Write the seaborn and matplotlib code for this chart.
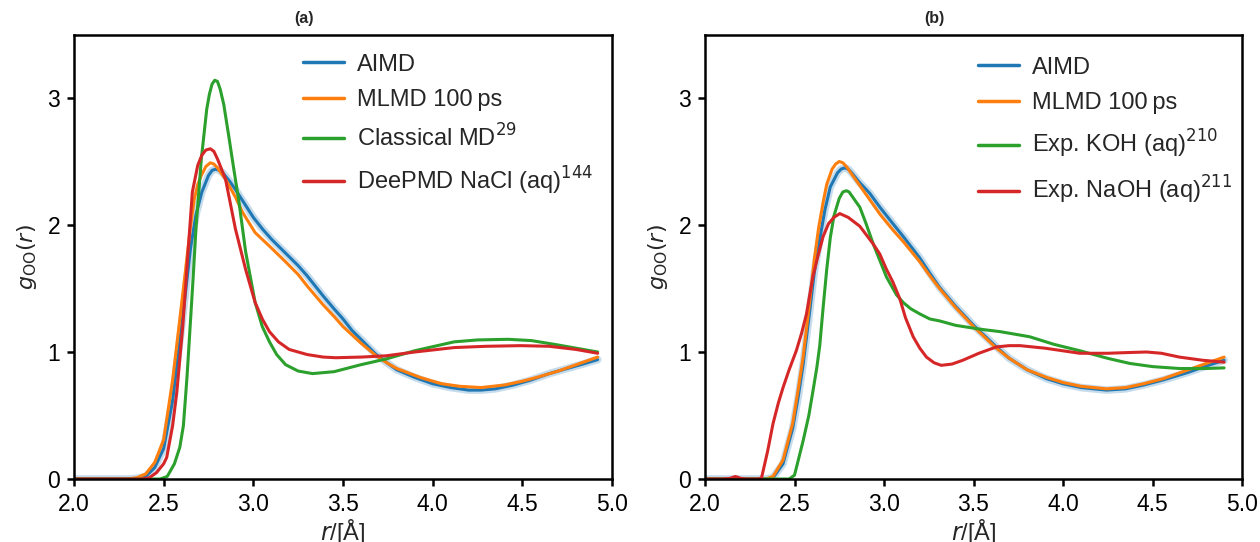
import numpy as np
import pandas as pd
import matplotlib
matplotlib.use("Agg")
import matplotlib.pyplot as plt
import seaborn as sns

# ---------------- data ----------------
# Panel (a)
a_aimd_r = [2.0, 2.30, 2.35, 2.40, 2.45, 2.50, 2.55, 2.60, 2.65, 2.68, 2.713, 2.75, 2.77, 2.79, 2.81, 2.83, 2.87,
            2.90, 2.95, 3.00, 3.05, 3.10, 3.15, 3.20, 3.25, 3.30, 3.39, 3.45, 3.50, 3.55, 3.60, 3.685, 3.75,
            3.80, 3.90, 4.00, 4.10, 4.20, 4.27, 4.35, 4.45, 4.55, 4.65, 4.75, 4.85, 4.92]
a_aimd_g = [0.0, 0.0, 0.005, 0.02, 0.09, 0.24, 0.62, 1.20, 1.82, 2.08, 2.26, 2.39, 2.43, 2.44, 2.43, 2.41, 2.34,
            2.28, 2.17, 2.06, 1.97, 1.89, 1.82, 1.75, 1.68, 1.60, 1.44, 1.34, 1.26, 1.17, 1.10, 0.98, 0.91,
            0.86, 0.80, 0.75, 0.72, 0.70, 0.70, 0.71, 0.74, 0.78, 0.83, 0.87, 0.91, 0.94]

a_mlmd_r = [2.0, 2.30, 2.35, 2.40, 2.45, 2.50, 2.55, 2.586, 2.62, 2.648, 2.67, 2.69, 2.71, 2.735, 2.76, 2.78,
            2.80, 2.82, 2.845, 2.90, 2.94, 3.01, 3.10, 3.18, 3.25, 3.30, 3.39, 3.45, 3.50, 3.60, 3.685, 3.75,
            3.80, 3.93, 4.05, 4.15, 4.27, 4.40, 4.50, 4.58, 4.70, 4.80, 4.92]
a_mlmd_g = [0.0, 0.0, 0.01, 0.04, 0.13, 0.31, 0.78, 1.21, 1.62, 1.97, 2.20, 2.32, 2.39, 2.46, 2.49, 2.48,
            2.45, 2.41, 2.36, 2.22, 2.10, 1.94, 1.82, 1.71, 1.61, 1.52, 1.37, 1.28, 1.20, 1.07, 0.97, 0.91,
            0.87, 0.80, 0.75, 0.73, 0.72, 0.74, 0.77, 0.80, 0.85, 0.90, 0.96]

a_cmd_r = [2.0, 2.48, 2.52, 2.56, 2.59, 2.61, 2.63, 2.648, 2.665, 2.68, 2.71, 2.74, 2.755, 2.77, 2.785,
           2.80, 2.815, 2.835, 2.863, 2.89, 2.92, 2.957, 3.01, 3.05, 3.09, 3.13, 3.18, 3.25, 3.33, 3.45,
           3.60, 3.74, 3.90, 4.12, 4.25, 4.42, 4.55, 4.68, 4.80, 4.92]
a_cmd_g = [0.0, 0.0, 0.02, 0.12, 0.25, 0.42, 0.80, 1.21, 1.60, 1.97, 2.52, 2.91, 3.03, 3.11, 3.14,
           3.13, 3.07, 2.95, 2.70, 2.45, 2.18, 1.79, 1.39, 1.20, 1.08, 0.98, 0.90, 0.85, 0.83, 0.845,
           0.90, 0.945, 1.01, 1.08, 1.095, 1.10, 1.09, 1.06, 1.03, 1.00]

a_deep_r = [2.0, 2.38, 2.42, 2.46, 2.50, 2.517, 2.55, 2.573, 2.607, 2.633, 2.66, 2.69, 2.713, 2.735, 2.76,
            2.78, 2.80, 2.82, 2.845, 2.90, 2.957, 3.01, 3.05, 3.09, 3.14, 3.20, 3.30, 3.39, 3.46, 3.60,
            3.74, 3.90, 4.12, 4.30, 4.49, 4.65, 4.80, 4.92]
a_deep_g = [0.0, 0.0, 0.01, 0.05, 0.12, 0.17, 0.42, 0.68, 1.21, 1.73, 2.26, 2.47, 2.55, 2.59, 2.60,
            2.58, 2.52, 2.45, 2.36, 1.97, 1.65, 1.39, 1.26, 1.16, 1.08, 1.02, 0.98, 0.96, 0.955, 0.96,
            0.97, 1.00, 1.035, 1.045, 1.05, 1.045, 1.02, 0.99]

# Panel (b)
b_aimd_r = [2.0, 2.34, 2.38, 2.436, 2.49, 2.52, 2.548, 2.585, 2.61, 2.64, 2.67, 2.70, 2.74, 2.76, 2.78, 2.80,
            2.82, 2.86, 2.92, 2.977, 3.05, 3.107, 3.20, 3.256, 3.31, 3.40, 3.50, 3.628, 3.70, 3.80, 3.908,
            4.00, 4.10, 4.243, 4.35, 4.45, 4.56, 4.70, 4.80, 4.90]
b_aimd_g = [0.0, 0.0, 0.01, 0.12, 0.40, 0.64, 0.90, 1.32, 1.62, 1.88, 2.12, 2.30, 2.41, 2.44, 2.45, 2.44,
            2.41, 2.34, 2.25, 2.14, 2.01, 1.91, 1.74, 1.62, 1.51, 1.36, 1.21, 1.04, 0.95, 0.86, 0.79,
            0.75, 0.72, 0.70, 0.71, 0.74, 0.78, 0.84, 0.89, 0.935]

b_mlmd_r = [2.0, 2.34, 2.38, 2.436, 2.49, 2.52, 2.548, 2.585, 2.61, 2.635, 2.66, 2.68, 2.71, 2.73, 2.75,
            2.77, 2.79, 2.82, 2.86, 2.92, 2.98, 3.05, 3.107, 3.20, 3.256, 3.31, 3.40, 3.50, 3.628, 3.70,
            3.80, 3.908, 4.00, 4.10, 4.243, 4.35, 4.45, 4.56, 4.70, 4.80, 4.90]
b_mlmd_g = [0.0, 0.0, 0.02, 0.15, 0.44, 0.70, 0.96, 1.40, 1.72, 1.98, 2.18, 2.32, 2.44, 2.48, 2.50,
            2.49, 2.46, 2.40, 2.32, 2.20, 2.08, 1.96, 1.87, 1.71, 1.60, 1.50, 1.35, 1.20, 1.03, 0.95,
            0.86, 0.80, 0.76, 0.73, 0.71, 0.72, 0.75, 0.79, 0.86, 0.91, 0.96]

b_koh_r = [2.0, 2.47, 2.50, 2.548, 2.58, 2.604, 2.625, 2.641, 2.66, 2.68, 2.70, 2.72, 2.75, 2.77, 2.79,
           2.805, 2.82, 2.865, 2.90, 2.94, 2.977, 3.014, 3.07, 3.107, 3.15, 3.20, 3.256, 3.31, 3.40, 3.535,
           3.65, 3.814, 3.95, 4.094, 4.25, 4.373, 4.50, 4.65, 4.80, 4.90]
b_koh_g = [0.0, 0.0, 0.03, 0.30, 0.50, 0.70, 0.88, 1.05, 1.35, 1.65, 1.90, 2.07, 2.21, 2.26, 2.27,
           2.26, 2.23, 2.14, 2.01, 1.85, 1.72, 1.59, 1.45, 1.39, 1.34, 1.30, 1.26, 1.245, 1.21, 1.18,
           1.16, 1.12, 1.06, 1.01, 0.95, 0.91, 0.885, 0.87, 0.87, 0.875]

b_naoh_r = [2.0, 2.10, 2.14, 2.17, 2.20, 2.23, 2.30, 2.316, 2.35, 2.38, 2.41, 2.436, 2.47, 2.51, 2.54,
            2.567, 2.585, 2.604, 2.63, 2.66, 2.69, 2.72, 2.753, 2.80, 2.865, 2.94, 2.977, 3.014, 3.05,
            3.088, 3.12, 3.163, 3.20, 3.237, 3.28, 3.32, 3.38, 3.44, 3.53, 3.628, 3.70, 3.76, 3.90,
            4.094, 4.25, 4.35, 4.466, 4.55, 4.65, 4.78, 4.90]
b_naoh_g = [0.0, 0.0, 0.005, 0.02, 0.005, 0.0, 0.0, 0.01, 0.22, 0.436, 0.60, 0.72, 0.86, 1.01, 1.15,
            1.30, 1.45, 1.60, 1.75, 1.91, 2.01, 2.06, 2.09, 2.06, 1.99, 1.85, 1.77, 1.65, 1.55,
            1.42, 1.27, 1.12, 1.03, 0.96, 0.915, 0.895, 0.905, 0.935, 0.99, 1.04, 1.05, 1.05, 1.03,
            0.99, 0.99, 0.995, 1.0, 0.99, 0.96, 0.935, 0.92]

labels_a = ["AIMD", "MLMD 100\u2009ps", r"Classical MD$^{\mathrm{29}}$", r"DeePMD NaCl (aq)$^{\mathrm{144}}$"]
labels_b = ["AIMD", "MLMD 100\u2009ps", r"Exp. KOH (aq)$^{\mathrm{210}}$", r"Exp. NaOH (aq)$^{\mathrm{211}}$"]
panel_titles = ["(a)", "(b)"]
x_ticks = [2.0, 2.5, 3.0, 3.5, 4.0, 4.5, 5.0]
y_ticks = [0, 1, 2, 3]
colors = ["#1f77b4", "#ff7f0e", "#2ca02c", "#d62728"]

# ---------------- style ----------------
sns.set_style("ticks")
plt.rcParams["font.family"] = ["Liberation Sans", "DejaVu Sans"]
plt.rcParams["mathtext.fontset"] = "dejavusans"

fig = plt.figure(figsize=(12.6, 5.42), dpi=100)
ax_a = fig.add_axes([74 / 1260, 63 / 542, 538 / 1260, 444.5 / 542])
ax_b = fig.add_axes([705 / 1260, 63 / 542, 537 / 1260, 444.5 / 542])

panels = [
    (ax_a, [(a_aimd_r, a_aimd_g), (a_mlmd_r, a_mlmd_g), (a_cmd_r, a_cmd_g), (a_deep_r, a_deep_g)], labels_a,
     (0.4257, 0.957), 0.56),
    (ax_b, [(b_aimd_r, b_aimd_g), (b_mlmd_r, b_mlmd_g), (b_koh_r, b_koh_g), (b_naoh_r, b_naoh_g)], labels_b,
     (0.508, 0.950), 0.58),
]

for (ax, series, labels, leg_anchor, lsp), title in zip(panels, panel_titles):
    # faint band under AIMD curve
    r0, g0 = series[0]
    sns.lineplot(x=r0, y=g0, ax=ax, color=colors[0], lw=5.5, alpha=0.25, sort=False,
                 estimator=None, legend=False, solid_joinstyle="round")
    for (r, g), lab, c in zip(series, labels, colors):
        sns.lineplot(x=r, y=g, ax=ax, color=c, lw=2.2, label=lab, sort=False, estimator=None,
                     solid_joinstyle="round", solid_capstyle="round")
    ax.set_xlim(2.0, 5.0)
    ax.set_ylim(0, 3.5)
    ax.set_xticks(x_ticks)
    ax.set_xticklabels([f"{t:.1f}" for t in x_ticks])
    ax.set_yticks(y_ticks)
    ax.tick_params(axis="both", which="major", labelsize=16.5, length=5, width=1.8,
                   direction="out", pad=5, colors="black")
    for sp in ax.spines.values():
        sp.set_visible(True)
        sp.set_linewidth(1.8)
        sp.set_color("black")
    ax.set_xlabel(r"$r$/[Å]", fontsize=17, labelpad=1)
    ax.set_ylabel(r"$g_{\mathrm{OO}}(r)$", fontsize=16, labelpad=6)
    ax.text(0.427, 1.037, title, transform=ax.transAxes, ha="center", va="center",
            fontsize=11.5, fontweight="bold")
    leg = ax.legend(loc="upper left", bbox_to_anchor=leg_anchor, frameon=False, fontsize=17,
                    handlelength=1.75, handletextpad=0.55, labelspacing=lsp, borderpad=0,
                    borderaxespad=0)
    for h in leg.get_lines():
        h.set_linewidth(2.5)

fig.savefig("out.png", dpi=100)
